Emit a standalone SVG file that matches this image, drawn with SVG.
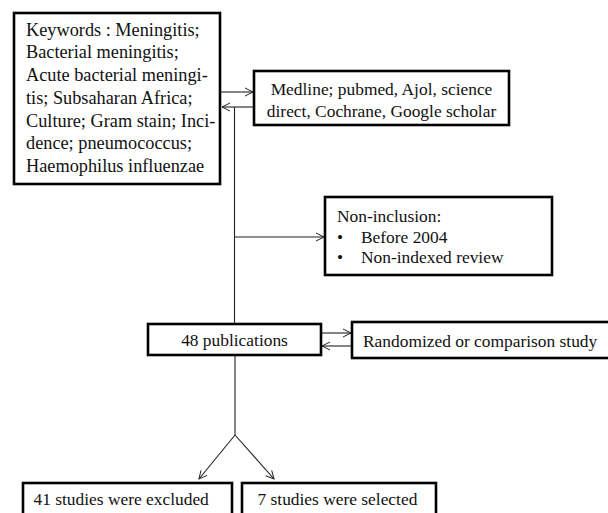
<svg xmlns="http://www.w3.org/2000/svg" width="608" height="513" viewBox="0 0 608 513">
<defs>
<marker id="arr" markerWidth="10" markerHeight="10" refX="9" refY="5" orient="auto" markerUnits="userSpaceOnUse">
<path d="M1,1 L9,5 L1,9" fill="none" stroke="#222" stroke-width="1"/>
</marker>
<style>
.box{fill:#fff;stroke:#000;stroke-width:2.6}
text{font-family:'Liberation Serif','Times New Roman','DejaVu Serif',serif;font-size:17.4px;fill:#111}
.k{font-size:18.3px}
.c{text-anchor:middle}
.ln{fill:none;stroke:#222;stroke-width:1.1}
</style>
</defs>
<rect width="608" height="513" fill="#fff"/>
<g id="connectors">
<line class="ln" x1="221" y1="92" x2="253" y2="92" marker-end="url(#arr)"/>
<line class="ln" x1="253" y1="107" x2="222" y2="107" marker-end="url(#arr)"/>
<line class="ln" x1="234.5" y1="107" x2="234.5" y2="323"/>
<line class="ln" x1="235" y1="237" x2="324" y2="237" marker-end="url(#arr)"/>
<line class="ln" x1="322" y1="333" x2="351" y2="333" marker-end="url(#arr)"/>
<line class="ln" x1="351" y1="346" x2="322" y2="346" marker-end="url(#arr)"/>
<line class="ln" x1="235" y1="356" x2="235" y2="435" stroke="#666"/>
<line class="ln" x1="235" y1="435" x2="199" y2="479" marker-end="url(#arr)"/>
<line class="ln" x1="235" y1="435" x2="274" y2="479" marker-end="url(#arr)"/>
</g>
<g id="keywords">
<rect class="box" x="14" y="13" width="206" height="171" stroke-width="3"/>
<text class="k" x="26" y="35.7">Keywords : Meningitis;</text>
<text class="k" x="26" y="58.4">Bacterial meningitis;</text>
<text class="k" x="26" y="81.1">Acute bacterial meningi-</text>
<text class="k" x="26" y="103.8">tis; Subsaharan Africa;</text>
<text class="k" x="26" y="126.5">Culture; Gram stain; Inci-</text>
<text class="k" x="26" y="149.2">dence; pneumococcus;</text>
<text class="k" x="26" y="172">Haemophilus influenzae</text>
</g>
<g id="databases">
<rect class="box" x="254" y="71" width="255" height="54"/>
<text class="c" x="381.5" y="95">Medline; pubmed, Ajol, science</text>
<text class="c" x="381.5" y="117">direct, Cochrane, Google scholar</text>
</g>
<g id="noninclusion">
<rect class="box" x="325" y="197" width="227" height="78"/>
<text x="337" y="222">Non-inclusion:</text>
<text x="337" y="242.5">•</text>
<text x="361" y="242.5">Before 2004</text>
<text x="337" y="263">•</text>
<text x="361" y="263">Non-indexed review</text>
</g>
<g id="publications">
<rect class="box" x="148" y="324" width="173" height="31"/>
<text class="c" x="234.5" y="346">48 publications</text>
</g>
<g id="randomized">
<rect class="box" x="352" y="322" width="258" height="36"/>
<text x="363" y="346.5">Randomized or comparison study</text>
</g>
<g id="excluded">
<rect class="box" x="23" y="483" width="209" height="40"/>
<text x="33.5" y="505">41 studies were excluded</text>
</g>
<g id="selected">
<rect class="box" x="242" y="483" width="194" height="40"/>
<text x="257.5" y="505">7 studies were selected</text>
</g>
</svg>
